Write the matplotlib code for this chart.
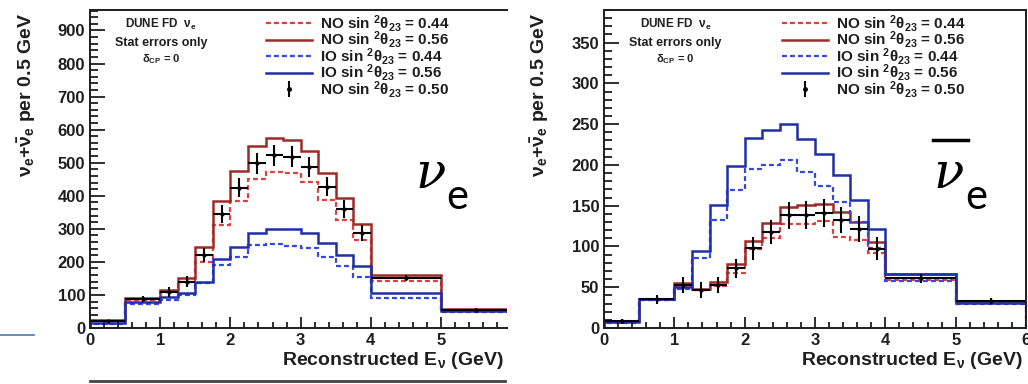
import numpy as np
import matplotlib
matplotlib.use('Agg')
import matplotlib.pyplot as plt
from matplotlib.lines import Line2D
from matplotlib.ticker import MultipleLocator

plt.rcParams['font.family'] = ['Liberation Sans', 'DejaVu Sans']
plt.rcParams['font.weight'] = 'bold'
plt.rcParams['axes.labelweight'] = 'bold'
plt.rcParams['mathtext.fontset'] = 'custom'
plt.rcParams['mathtext.rm'] = 'Liberation Sans:bold'
plt.rcParams['mathtext.it'] = 'Liberation Sans:bold'
plt.rcParams['mathtext.bf'] = 'Liberation Sans:bold'
plt.rcParams['mathtext.default'] = 'bf'

# ---- binning (GeV) ----
edges = [0, 0.5, 1, 1.25, 1.5, 1.75, 2, 2.25, 2.5, 2.75, 3, 3.25, 3.5, 3.75, 4, 5, 6]
centers = [0.25, 0.75, 1.125, 1.375, 1.625, 1.875, 2.125, 2.375, 2.625, 2.875,
           3.125, 3.375, 3.625, 3.875, 4.5, 5.5]
half_w = [0.25, 0.25, 0.125, 0.125, 0.125, 0.125, 0.125, 0.125, 0.125, 0.125,
          0.125, 0.125, 0.125, 0.125, 0.5, 0.5]

# ---- nu_e appearance ----
nue_no44 = [20, 85, 108, 140, 200, 312, 383, 451, 473, 468, 443, 388, 328, 267, 143, 55]
nue_no56 = [25, 92, 115, 150, 245, 385, 475, 550, 575, 568, 535, 470, 393, 315, 160, 58]
nue_io44 = [12, 74, 86, 100, 135, 192, 214, 250, 254, 248, 242, 214, 188, 155, 92, 47]
nue_io56 = [15, 78, 93, 106, 140, 208, 245, 287, 298, 298, 288, 258, 222, 188, 105, 50]
nue_data = [20, 88, 110, 140, 220, 345, 425, 498, 522, 518, 487, 427, 360, 288, 150, 55]
nue_err = [4.5, 9, 15, 17, 21, 26, 29, 32, 32, 32, 31, 29, 27, 24, 9, 5]

# ---- nu_e-bar appearance ----
nueb_no44 = [7, 34, 52, 46, 52, 68, 97, 110, 127, 128, 131, 112, 108, 92, 59, 31]
nueb_no56 = [8, 36, 55, 48, 56, 79, 107, 129, 149, 151, 152, 142, 130, 106, 66, 33]
nueb_io44 = [6, 34, 48, 86, 133, 169, 195, 200, 206, 191, 174, 154, 130, 98, 58, 29]
nueb_io56 = [7, 35, 50, 95, 151, 199, 233, 243, 250, 232, 214, 188, 157, 122, 66, 31]
nueb_data = [8, 35, 53, 47, 53, 73, 98, 118, 138, 139, 141, 132, 121, 97, 61, 33]
nueb_err = [3, 6, 10, 10, 10, 12, 14, 15, 17, 17, 17, 16, 16, 14, 5.5, 4]

labels = [r'NO sin $^{2}\theta_{23}$ = 0.44', r'NO sin $^{2}\theta_{23}$ = 0.56',
          r'IO sin $^{2}\theta_{23}$ = 0.44', r'IO sin $^{2}\theta_{23}$ = 0.56',
          r'NO sin $^{2}\theta_{23}$ = 0.50']

c_no44 = '#e0403c'
c_no56 = '#9e2b28'
c_io44 = '#3448e0'
c_io56 = '#1f2fa6'
dots = (0, (2.2, 1.4))
txt_c = '#1e1e1e'

W, H = 1028, 384
fig = plt.figure(figsize=(W / 100, H / 100), dpi=100)


def panel(rect, xmax, ymax, no44, no56, io44, io56, data, err, ymajor, yminor, bar):
    ax = fig.add_axes(rect)
    h1 = ax.stairs(no44, edges, color=c_no44, lw=1.6, ls=dots)
    h2 = ax.stairs(no56, edges, color=c_no56, lw=1.8)
    h3 = ax.stairs(io44, edges, color=c_io44, lw=1.6, ls=dots)
    h4 = ax.stairs(io56, edges, color=c_io56, lw=1.8)
    ax.errorbar(centers, data, xerr=half_w, yerr=err, fmt='o', ms=2, color='k',
                ecolor='k', elinewidth=1.5, capsize=0)
    h5 = ax.errorbar([np.nan], [np.nan], yerr=[1], fmt='o', ms=2.5, color='k',
                     elinewidth=1.5, capsize=0)
    ax.set_xlim(0, xmax)
    ax.set_ylim(0, ymax)
    ax.xaxis.set_major_locator(MultipleLocator(1))
    ax.xaxis.set_minor_locator(MultipleLocator(0.2))
    ax.yaxis.set_major_locator(MultipleLocator(ymajor))
    ax.yaxis.set_minor_locator(MultipleLocator(yminor))
    ax.tick_params(which='both', direction='in', top=False, right=False,
                   labelsize=12, width=1.3, colors=txt_c)
    ax.tick_params(which='major', axis='x', length=8)
    ax.tick_params(which='minor', axis='x', length=4)
    ax.tick_params(which='major', axis='y', length=11)
    ax.tick_params(which='minor', axis='y', length=6)
    for lbl in ax.get_xticklabels() + ax.get_yticklabels():
        lbl.set_fontweight('bold')
    for s in ax.spines.values():
        s.set_linewidth(1.4)
        s.set_color(txt_c)
    ax.set_xlabel(r'Reconstructed E$_{\nu}$ (GeV)', fontsize=14, loc='right', color=txt_c)
    ax.xaxis.set_label_coords(0.993, -0.07)
    ax.set_ylabel(r'$\nu_{e}$+$\bar{\nu}_{e}$ per 0.5 GeV', fontsize=14, loc='top', color=txt_c)
    ax.yaxis.set_label_coords(-0.125, 0.99)

    ax.text(0.17, 0.955, r'DUNE FD  $\nu_{e}$', transform=ax.transAxes, ha='center',
            va='center', fontsize=8.5, color=txt_c)
    ax.text(0.17, 0.897, 'Stat errors only', transform=ax.transAxes, ha='center',
            va='center', fontsize=9, color=txt_c)
    ax.text(0.17, 0.847, r'$\delta_{CP}$ = 0', transform=ax.transAxes, ha='center',
            va='center', fontsize=8, color=txt_c)

    ax.legend([h1, h2, h3, h4, h5], labels, loc='upper left', bbox_to_anchor=(0.415, 1.0),
              frameon=False, fontsize=11, handlelength=3.0, handletextpad=0.55,
              labelspacing=-0.3, borderpad=0.2, borderaxespad=0, labelcolor=txt_c)

    # big nu_e label
    ax.text(0.78, 0.44, 'ν', transform=ax.transAxes, ha='left', va='baseline',
            fontsize=36, family='DejaVu Serif', style='italic', weight='normal', color='k')
    ax.text(0.855, 0.375, 'e', transform=ax.transAxes, ha='left', va='baseline',
            fontsize=30, family='Lato', weight='normal', color='k')
    if bar:
        ax.plot([0.78, 0.863], [0.591, 0.591], transform=ax.transAxes, color='k',
                lw=2.5, clip_on=False)
    return ax


ax1 = panel([90 / W, 1 - 328 / H, 417 / W, 318 / H], 5.94, 962,
            nue_no44, nue_no56, nue_io44, nue_io56, nue_data, nue_err, 100, 20, False)
ax1.spines['right'].set_visible(False)
ax2 = panel([604 / W, 1 - 328 / H, 422 / W, 318 / H], 6.0, 390,
            nueb_no44, nueb_no56, nueb_io44, nueb_io56, nueb_data, nueb_err, 50, 10, True)

# slide remnants
fig.add_artist(Line2D([0, 34 / W], [1 - 335 / H, 1 - 335 / H], color='#4a78c0', lw=1.2))
fig.add_artist(Line2D([90 / W, 505 / W], [1 - 381 / H, 1 - 381 / H], color='#444444', lw=2))

fig.savefig('out.png', dpi=100)
